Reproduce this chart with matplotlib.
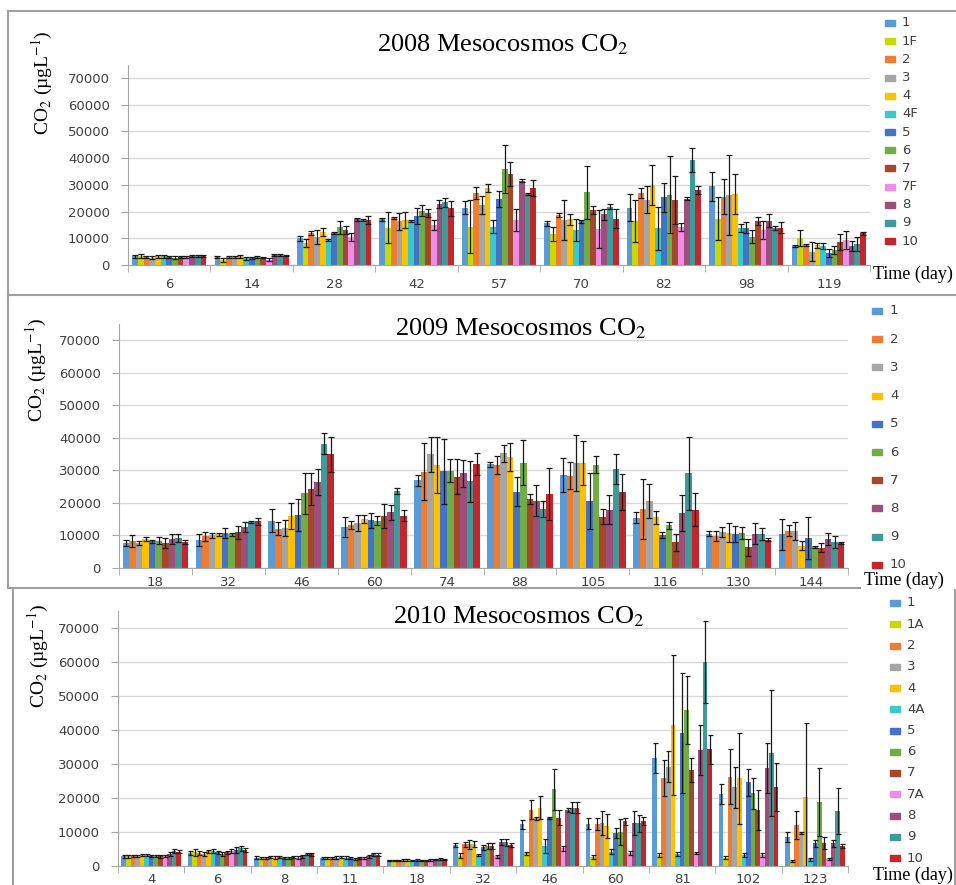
import numpy as np
from matplotlib import pyplot as plt
from matplotlib.lines import Line2D
from matplotlib.patches import Rectangle

plt.rcParams['mathtext.fontset'] = 'stix'

W, H = 956, 885

colors = {
    '1': '#5B9BD5', '1F': '#C8D900', '1A': '#C8D900', '2': '#ED7D31', '3': '#A5A5A5',
    '4': '#FFC000', '4F': '#3CC8C8', '4A': '#3CC8C8', '5': '#4472C4', '6': '#70AD47',
    '7': '#A4472A', '7F': '#F08CE8', '7A': '#F08CE8', '8': '#9B4F7A', '9': '#3F9A9A',
    '10': '#C3262C',
}

# ---- 2008 ----
days_2008 = ['6', '14', '28', '42', '57', '70', '82', '98', '119']
series_2008 = ['1', '1F', '2', '3', '4', '4F', '5', '6', '7', '7F', '8', '9', '10']
co2_2008 = [
    [3200, 3300, 3000, 2800, 3200, 3200, 3000, 2800, 2900, 3100, 3300, 3400, 3300],
    [3000, 2000, 3000, 3000, 3200, 2500, 2500, 3000, 2800, 2000, 3800, 3700, 3500],
    [10000, 8400, 11900, 10500, 12500, 9400, 11900, 14100, 13100, 10600, 17100, 16900, 16900],
    [17100, 14000, 17500, 16300, 16900, 16500, 18500, 20300, 19600, 15000, 22900, 23400, 21200],
    [21500, 14400, 26900, 22500, 29000, 14400, 24800, 36000, 34000, 16900, 31500, 26600, 28800],
    [15600, 11600, 18800, 16900, 17100, 13100, 16300, 27200, 20500, 13500, 19000, 21800, 17300],
    [21500, 16500, 26900, 24400, 29800, 13800, 25300, 26300, 24400, 14400, 24800, 39400, 28100],
    [29400, 17300, 25600, 26300, 26500, 13800, 14000, 10600, 16300, 13100, 16600, 13800, 14000],
    [7100, 10000, 7500, 5000, 7300, 7100, 4400, 5600, 8500, 9400, 7100, 7900, 11900],
]
err_2008 = [
    [400, 700, 400, 600, 500, 500, 400, 400, 400, 300, 400, 400, 400],
    [400, 800, 400, 400, 500, 500, 400, 400, 300, 500, 400, 300, 300],
    [1000, 1500, 700, 2500, 1500, 500, 300, 2500, 1500, 1500, 500, 500, 1500],
    [500, 5700, 300, 3200, 3000, 500, 3000, 2000, 1500, 2000, 1500, 1800, 2700],
    [2500, 10000, 2300, 3500, 1500, 2500, 3000, 9000, 4500, 4000, 500, 500, 3000],
    [1000, 2500, 700, 7500, 2000, 4000, 500, 10000, 1500, 7000, 2000, 1000, 3500],
    [5000, 8000, 2000, 5000, 7500, 8000, 5500, 14500, 9000, 1500, 500, 4500, 1500],
    [5500, 8000, 6500, 15000, 7500, 1500, 2000, 2500, 1500, 3500, 2500, 800, 2000],
    [500, 3000, 500, 3500, 1000, 1000, 1500, 1500, 3000, 3500, 2000, 2500, 500],
]

# ---- 2009 ----
days_2009 = ['18', '32', '46', '60', '74', '88', '105', '116', '130', '144']
series_2009 = ['1', '2', '3', '4', '5', '6', '7', '8', '9', '10']
co2_2009 = [
    [7700, 8400, 7700, 8900, 8200, 8400, 7700, 9000, 9200, 8000],
    [8700, 9700, 10000, 10400, 10700, 10400, 11000, 12600, 14000, 14300],
    [14600, 12000, 12300, 16000, 16300, 23000, 24300, 26400, 38200, 34900],
    [12600, 13300, 13800, 15100, 14700, 14600, 16000, 17100, 23700, 16100],
    [26900, 29600, 34900, 31700, 29800, 29900, 28100, 29100, 26600, 32000],
    [31900, 31700, 35200, 34200, 23500, 32400, 21100, 20700, 18200, 22800],
    [28600, 28400, 32400, 32200, 20700, 31700, 15800, 17900, 30300, 23300],
    [15500, 18200, 20600, 15600, 10200, 13100, 7900, 16900, 29100, 17900],
    [10500, 9900, 11000, 10900, 10400, 10700, 6400, 10500, 10500, 8700],
    [10400, 11400, 11400, 6900, 9200, 6400, 6300, 8900, 8000, 7700],
]
err_2009 = [
    [1000, 1800, 500, 500, 500, 1000, 1500, 1500, 1200, 500],
    [1800, 1500, 700, 500, 1500, 500, 2000, 1600, 300, 1000],
    [3500, 2000, 2500, 4000, 5000, 6300, 4800, 4000, 3200, 5500],
    [3000, 1200, 2500, 1200, 2300, 1300, 3800, 2200, 900, 1700],
    [1800, 8800, 5300, 8500, 10000, 3500, 5500, 4200, 6200, 3400],
    [800, 2800, 2500, 4300, 4500, 7000, 1500, 4800, 2500, 8000],
    [5200, 4200, 8600, 6800, 8600, 2600, 2200, 4500, 4600, 5500],
    [1800, 9300, 5200, 2000, 1000, 1000, 2600, 5600, 11200, 5000],
    [800, 1500, 1500, 3000, 2500, 1800, 2600, 3200, 1800, 500],
    [4800, 1700, 2800, 1300, 6500, 300, 1300, 1800, 1700, 300],
]

# ---- 2010 ----
days_2010 = ['4', '6', '8', '11', '18', '32', '46', '60', '81', '102', '123']
series_2010 = ['1', '1A', '2', '3', '4', '4A', '5', '6', '7', '7A', '8', '9', '10']
co2_2010 = [
    [2800, 2800, 2900, 3000, 3300, 3300, 3000, 2900, 2800, 3000, 3500, 4300, 4200],
    [3900, 4000, 3800, 3600, 4300, 4500, 4000, 3500, 4000, 4500, 4700, 5200, 4700],
    [2500, 2400, 2400, 2600, 2500, 2600, 2400, 2400, 2600, 2500, 2800, 3500, 3400],
    [2300, 2300, 2400, 2500, 2600, 2500, 2400, 2200, 2300, 2400, 2900, 3400, 3300],
    [1700, 1700, 1700, 1800, 1800, 1700, 1800, 1700, 1700, 1800, 2000, 2100, 2000],
    [6200, 3000, 6400, 6400, 6500, 3300, 5500, 5900, 5900, 2800, 7000, 7000, 6200],
    [12300, 3700, 16500, 14000, 17200, 5900, 14000, 22600, 14200, 5200, 16500, 17200, 17200],
    [12400, 2700, 12400, 12600, 11800, 4200, 9600, 10100, 13100, 3700, 12600, 12600, 13300],
    [31700, 3200, 26000, 29200, 41500, 3400, 39100, 45900, 28200, 3700, 34200, 60000, 34300],
    [21200, 2500, 26300, 23200, 25800, 3200, 24600, 21400, 16500, 3200, 28800, 33200, 23200],
    [8600, 1600, 12100, 9800, 20400, 2000, 6700, 18700, 6700, 2000, 6700, 16200, 5900],
]
err_2010 = [
    [300, 300, 300, 300, 300, 300, 300, 300, 300, 300, 500, 600, 400],
    [600, 1000, 600, 600, 500, 600, 400, 500, 500, 600, 800, 800, 700],
    [300, 300, 300, 300, 300, 300, 300, 300, 300, 300, 400, 400, 400],
    [300, 300, 300, 300, 300, 300, 300, 300, 300, 300, 400, 500, 400],
    [200, 200, 200, 200, 200, 200, 200, 200, 200, 200, 200, 200, 200],
    [500, 700, 700, 1300, 800, 300, 700, 1000, 800, 300, 800, 1000, 500],
    [1300, 500, 2800, 500, 3300, 2000, 300, 6000, 2200, 800, 500, 1500, 1500],
    [1600, 500, 1800, 3500, 3500, 700, 1500, 3800, 1000, 600, 3500, 2500, 1200],
    [4400, 500, 5300, 4500, 20500, 600, 17700, 10000, 3500, 300, 7400, 12000, 4300],
    [3000, 400, 8000, 6000, 13300, 500, 4000, 4500, 6000, 500, 7400, 18600, 7000],
    [1500, 300, 4200, 300, 21600, 500, 1000, 10000, 1800, 300, 1000, 6800, 500],
]


def fx(x):
    return x / W


def fy(y):
    return 1 - y / H


def draw_panel(fig, box, days, series, vals, errs, title, title_pos, ylab_pos,
               leg, time_pos, xlab_pad, cap):
    left, top, right, bottom = box
    ax = fig.add_axes([fx(left), fy(bottom), fx(right - left), (bottom - top) / H])
    n = len(series)
    vals = np.array(vals)
    errs = np.array(errs)
    groups = np.arange(len(days))
    w = 0.9 / n
    for i, s in enumerate(series):
        x = groups + (i - (n - 1) / 2) * w
        ax.bar(x, vals[:, i], width=w, color=colors[s], zorder=2,
               yerr=errs[:, i], error_kw=dict(ecolor='#1a1a1a', elinewidth=0.9,
                                              capsize=cap, capthick=0.9, zorder=3))
    ax.set_xlim(-0.5, len(days) - 0.5)
    ax.set_ylim(0, 75000)
    ax.set_yticks(np.arange(0, 70001, 10000))
    ax.grid(axis='y', color='#D9D9D9', linewidth=1, zorder=0)
    for sp in ['top', 'right']:
        ax.spines[sp].set_visible(False)
    ax.spines['left'].set_color('#A6A6A6')
    ax.spines['bottom'].set_color('#A6A6A6')
    ax.set_xticks(groups)
    ax.set_xticklabels(days)
    ax.set_xticks(np.arange(len(days) + 1) - 0.5, minor=True)
    ax.tick_params(axis='x', which='major', length=0, pad=xlab_pad,
                   labelsize=9.5, labelcolor='#404040')
    ax.tick_params(axis='x', which='minor', length=5, color='#A6A6A6')
    ax.tick_params(axis='y', length=5, color='#A6A6A6', pad=8,
                   labelsize=9.5, labelcolor='#404040')

    fig.text(fx(title_pos[0]), fy(title_pos[1]), title, ha='center', va='baseline',
             family='Liberation Serif', fontsize=19)
    fig.text(fx(ylab_pos[0]), fy(ylab_pos[1]), 'CO$_2$ (µgL$^{-1}$)', rotation=90,
             ha='center', va='center', family='Liberation Serif', fontsize=14)
    fig.text(fx(time_pos[0]), fy(time_pos[1]), 'Time (day)', ha='left', va='center',
             family='Liberation Serif', fontsize=13)

    px, tx, y0, dy = leg
    for i, s in enumerate(series):
        y = y0 + i * dy
        fig.add_artist(Rectangle((fx(px), fy(y + 3)), fx(10), 6 / H,
                                 transform=fig.transFigure, color=colors[s]))
        fig.text(fx(tx), fy(y), s, ha='left', va='center', fontsize=9.5, color='#404040')
    return ax


fig = plt.figure(figsize=(W / 100, H / 100), dpi=100)

draw_panel(fig, (128, 64.6, 870, 265), days_2008, series_2008, co2_2008, err_2008,
           '2008 Mesocosmos CO$_2$', (503, 51), (42, 83),
           (885, 902, 23, 18.17), (873, 274), 9, 2)
draw_panel(fig, (119, 324, 848, 568), days_2009, series_2009, co2_2009, err_2009,
           '2009 Mesocosmos CO$_2$', (521, 335), (36, 370),
           (872, 890, 311, 28.2), (864, 580), 6, 2.3)
draw_panel(fig, (118, 611, 848, 866), days_2010, series_2010, co2_2010, err_2010,
           '2010 Mesocosmos CO$_2$', (519, 623), (38, 656),
           (890, 907, 603, 21.25), (873, 875), 5, 1.8)

# panel frames
frame = dict(color='#A0A0A0', linewidth=1.5, transform=fig.transFigure)
for x0, y0, x1, y1 in [(8, 11, 956, 11), (8, 11, 8, 295), (8, 295, 956, 295),
                       (8, 295, 8, 588), (8, 588, 860, 588),
                       (13, 590, 13, 885), (955, 590, 955, 885)]:
    fig.add_artist(Line2D([fx(x0), fx(x1)], [fy(y0), fy(y1)], **frame))

fig.savefig('out.png', dpi=100)
